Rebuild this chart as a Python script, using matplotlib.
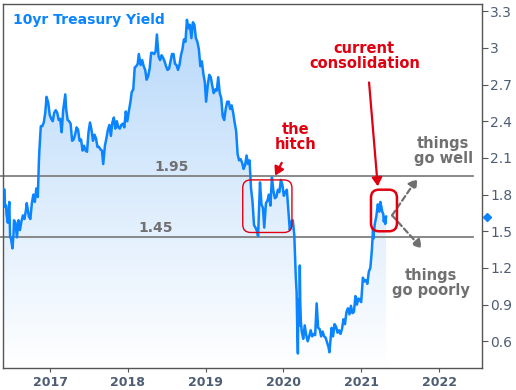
import numpy as np
import pandas as pd
import matplotlib
matplotlib.use("Agg")
import matplotlib.pyplot as plt
import matplotlib.dates as mdates
from matplotlib.patches import FancyBboxPatch

# weekly-ish 10yr treasury yield
dates = [
    "2016-05-25", "2016-06-01", "2016-06-03", "2016-06-08", "2016-06-10", "2016-06-16", "2016-06-23", "2016-06-27",
    "2016-07-01", "2016-07-08", "2016-07-13", "2016-07-15", "2016-07-22", "2016-07-29", "2016-08-05", "2016-08-12",
    "2016-08-19", "2016-08-26", "2016-09-02", "2016-09-09", "2016-09-13", "2016-09-23", "2016-09-30", "2016-10-07",
    "2016-10-14", "2016-10-21", "2016-10-28", "2016-11-04", "2016-11-09", "2016-11-11", "2016-11-18", "2016-11-25",
    "2016-12-02", "2016-12-09", "2016-12-15", "2016-12-23", "2016-12-30",
    "2017-01-06", "2017-01-13", "2017-01-20", "2017-01-27", "2017-02-03", "2017-02-10", "2017-02-17", "2017-02-24",
    "2017-03-03", "2017-03-13", "2017-03-17", "2017-03-24", "2017-03-31", "2017-04-07", "2017-04-14", "2017-04-21",
    "2017-04-28", "2017-05-05", "2017-05-12", "2017-05-19", "2017-05-26", "2017-06-02", "2017-06-09", "2017-06-16",
    "2017-06-23", "2017-06-30", "2017-07-07", "2017-07-14", "2017-07-21", "2017-07-28", "2017-08-04", "2017-08-11",
    "2017-08-18", "2017-08-25", "2017-09-01", "2017-09-07", "2017-09-15", "2017-09-22", "2017-09-29", "2017-10-06",
    "2017-10-13", "2017-10-20", "2017-10-27", "2017-11-03", "2017-11-10", "2017-11-17", "2017-11-24", "2017-12-01",
    "2017-12-08", "2017-12-15", "2017-12-22", "2017-12-29",
    "2018-01-05", "2018-01-12", "2018-01-19", "2018-01-26", "2018-02-02", "2018-02-09", "2018-02-16", "2018-02-21",
    "2018-03-02", "2018-03-09", "2018-03-16", "2018-03-23", "2018-03-30", "2018-04-06", "2018-04-13", "2018-04-20",
    "2018-04-27", "2018-05-04", "2018-05-11", "2018-05-17", "2018-05-25", "2018-06-01", "2018-06-08", "2018-06-15",
    "2018-06-22", "2018-06-29", "2018-07-06", "2018-07-13", "2018-07-20", "2018-07-27", "2018-08-03", "2018-08-10",
    "2018-08-17", "2018-08-24", "2018-08-31", "2018-09-07", "2018-09-14", "2018-09-21", "2018-09-28", "2018-10-05",
    "2018-10-12", "2018-10-19", "2018-10-26", "2018-11-02", "2018-11-09", "2018-11-16", "2018-11-23", "2018-11-30",
    "2018-12-07", "2018-12-14", "2018-12-21", "2018-12-28",
    "2019-01-03", "2019-01-11", "2019-01-18", "2019-01-25", "2019-02-01", "2019-02-08", "2019-02-15", "2019-02-22",
    "2019-03-01", "2019-03-08", "2019-03-15", "2019-03-22", "2019-03-29", "2019-04-05", "2019-04-12", "2019-04-19",
    "2019-04-26", "2019-05-03", "2019-05-10", "2019-05-17", "2019-05-24", "2019-05-31", "2019-06-07", "2019-06-14",
    "2019-06-21", "2019-06-28", "2019-07-05", "2019-07-12", "2019-07-19", "2019-07-26", "2019-08-02", "2019-08-09",
    "2019-08-16", "2019-08-23", "2019-08-30", "2019-09-04", "2019-09-13", "2019-09-20", "2019-09-27", "2019-10-03",
    "2019-10-11", "2019-10-18", "2019-10-25", "2019-11-01", "2019-11-08", "2019-11-15", "2019-11-22", "2019-11-29",
    "2019-12-06", "2019-12-13", "2019-12-20", "2019-12-27",
    "2020-01-03", "2020-01-10", "2020-01-17", "2020-01-24", "2020-01-31", "2020-02-07", "2020-02-14", "2020-02-21",
    "2020-02-28", "2020-03-03", "2020-03-06", "2020-03-09", "2020-03-10", "2020-03-13", "2020-03-16", "2020-03-18",
    "2020-03-20", "2020-03-23", "2020-03-27", "2020-04-03", "2020-04-10", "2020-04-17", "2020-04-24", "2020-05-01",
    "2020-05-08", "2020-05-15", "2020-05-22", "2020-05-29", "2020-06-05", "2020-06-12", "2020-06-19", "2020-06-26",
    "2020-07-03", "2020-07-10", "2020-07-17", "2020-07-24", "2020-07-31", "2020-08-04", "2020-08-07", "2020-08-14",
    "2020-08-21", "2020-08-28", "2020-09-04", "2020-09-11", "2020-09-18", "2020-09-25", "2020-10-02", "2020-10-09",
    "2020-10-16", "2020-10-23", "2020-10-30", "2020-11-06", "2020-11-13", "2020-11-20", "2020-11-27", "2020-12-04",
    "2020-12-11", "2020-12-18", "2020-12-24", "2020-12-31",
    "2021-01-08", "2021-01-15", "2021-01-22", "2021-01-29", "2021-02-05", "2021-02-12", "2021-02-19", "2021-02-25",
    "2021-02-26", "2021-03-05", "2021-03-12", "2021-03-19", "2021-03-26", "2021-03-31", "2021-04-05", "2021-04-09",
    "2021-04-14", "2021-04-16", "2021-04-20", "2021-04-23", "2021-04-27",
]
yields = [
    1.85, 1.84, 1.70, 1.71, 1.64, 1.57, 1.74, 1.45,
    1.44, 1.36, 1.48, 1.59, 1.57, 1.45, 1.59, 1.51,
    1.58, 1.63, 1.60, 1.67, 1.73, 1.62, 1.60, 1.73,
    1.80, 1.74, 1.85, 1.78, 2.07, 2.15, 2.36, 2.36,
    2.39, 2.47, 2.60, 2.55, 2.45,
    2.42, 2.40, 2.47, 2.49, 2.47, 2.41, 2.42, 2.31,
    2.49, 2.62, 2.50, 2.41, 2.40, 2.38, 2.24, 2.25,
    2.29, 2.35, 2.33, 2.24, 2.25, 2.16, 2.20, 2.16,
    2.15, 2.31, 2.39, 2.33, 2.24, 2.29, 2.26, 2.19,
    2.19, 2.17, 2.16, 2.05, 2.20, 2.26, 2.33, 2.37,
    2.28, 2.39, 2.43, 2.34, 2.40, 2.35, 2.34, 2.37,
    2.38, 2.35, 2.48, 2.40,
    2.48, 2.55, 2.64, 2.66, 2.84, 2.85, 2.87, 2.95,
    2.86, 2.90, 2.85, 2.82, 2.74, 2.77, 2.83, 2.96,
    2.96, 2.95, 2.97, 3.11, 2.93, 2.90, 2.94, 2.92,
    2.89, 2.85, 2.82, 2.83, 2.89, 2.95, 2.95, 2.87,
    2.86, 2.82, 2.86, 2.94, 2.99, 3.07, 3.05, 3.23,
    3.16, 3.19, 3.08, 3.21, 3.19, 3.08, 3.05, 2.99,
    2.85, 2.89, 2.79, 2.72,
    2.56, 2.70, 2.78, 2.76, 2.69, 2.63, 2.66, 2.65,
    2.76, 2.63, 2.59, 2.44, 2.41, 2.50, 2.56, 2.56,
    2.50, 2.53, 2.47, 2.39, 2.32, 2.13, 2.08, 2.09,
    2.06, 2.01, 2.04, 2.12, 2.05, 2.08, 1.85, 1.74,
    1.55, 1.53, 1.50, 1.46, 1.90, 1.72, 1.69, 1.53,
    1.73, 1.75, 1.80, 1.71, 1.94, 1.83, 1.77, 1.78,
    1.84, 1.82, 1.92, 1.88,
    1.79, 1.82, 1.84, 1.68, 1.51, 1.58, 1.59, 1.47,
    1.13, 1.00, 0.71, 0.50, 0.76, 0.94, 0.73, 1.22,
    0.92, 0.76, 0.68, 0.62, 0.73, 0.65, 0.60, 0.64,
    0.69, 0.64, 0.66, 0.65, 0.91, 0.71, 0.70, 0.64,
    0.68, 0.64, 0.63, 0.59, 0.55, 0.51, 0.57, 0.71,
    0.64, 0.74, 0.72, 0.67, 0.69, 0.66, 0.70, 0.78,
    0.74, 0.84, 0.87, 0.82, 0.89, 0.83, 0.84, 0.97,
    0.90, 0.95, 0.94, 0.92,
    1.12, 1.09, 1.10, 1.07, 1.17, 1.20, 1.34, 1.52,
    1.44, 1.56, 1.62, 1.72, 1.66, 1.74, 1.70, 1.66,
    1.64, 1.58, 1.61, 1.56, 1.62,
]
levels = [1.95, 1.45]
y_ticks = [0.6, 0.9, 1.2, 1.5, 1.8, 2.1, 2.4, 2.7, 3, 3.3]

blue = "#0a84ff"
red = "#e00010"
gray = "#707070"
tick_col = "#4d5d73"

x = mdates.date2num(pd.to_datetime(dates))
y = np.array(yields)


def d(s):
    return mdates.date2num(pd.Timestamp(s))


fig = plt.figure(figsize=(5.16, 3.9), dpi=100)
ax = fig.add_axes([0.006, 0.056, 0.928, 0.934])

x0, x1 = d("2016-05-25"), d("2022-07-21")
ylo, yhi = 0.38, 3.36

# gradient fill under the line
top = np.array([181, 215, 250]) / 255
bot = np.array([255, 255, 255]) / 255
t = np.linspace(0, 1, 256)[:, None]
grad = (top * (1 - t) + bot * t)[:, None, :]
im = ax.imshow(grad, extent=[x0, x1, ylo, yhi], aspect="auto", origin="upper", zorder=1)
fb = ax.fill_between(x, y, ylo, facecolor="none", edgecolor="none")
im.set_clip_path(fb.get_paths()[0], transform=ax.transData)

ax.plot(x, y, color=blue, lw=1.8, zorder=3)

for lv in levels:
    ax.axhline(lv, xmin=-0.006, xmax=0.981, color="#808080", lw=1.3, zorder=2, clip_on=False)
ax.text(d("2018-07-25"), 1.95 + 0.075, "1.95", color=gray,
        fontsize=10, fontweight="bold", ha="center", va="center")
ax.text(d("2018-05-10"), 1.45 + 0.075, "1.45", color=gray,
        fontsize=10, fontweight="bold", ha="center", va="center")

ax.set_xlim(x0, x1)
ax.set_ylim(ylo, yhi)

# rounded boxes (pixel sizes converted to data units)
px_x = 365.25 / 77.8
px_y = 1 / 122.0


def rbox(d0, d1, v0, v1, lw):
    a, b = d(d0), d(d1)
    p = FancyBboxPatch((a, v0), b - a, v1 - v0,
                       boxstyle="round,pad=0,rounding_size=%f" % (8 * px_x),
                       mutation_aspect=px_y / px_x,
                       fc="none", ec=red, lw=lw, zorder=4)
    ax.add_patch(p)


rbox("2019-06-24", "2020-02-10", 1.49, 1.92, 1.0)
rbox("2021-02-15", "2021-06-17", 1.50, 1.84, 1.8)

head = "-|>,head_length=0.5,head_width=0.3"
ax.annotate("", xy=(d("2019-11-17"), 1.935), xytext=(d("2019-12-30"), 2.08),
            arrowprops=dict(arrowstyle=head, color=red, lw=1.6))
ax.text(d("2020-02-25"), 2.27, "the\nhitch", color=red, fontsize=10.5, fontweight="bold",
        ha="center", va="center", linespacing=1.0)

ax.annotate("", xy=(d("2021-03-20"), 1.845), xytext=(d("2021-02-05"), 2.74),
            arrowprops=dict(arrowstyle=head, color=red, lw=1.6))
ax.text(d("2021-01-15"), 2.93, "current\nconsolidation", color=red, fontsize=10.5, fontweight="bold",
        ha="center", va="center", linespacing=1.0)

ax.annotate("", xy=(d("2021-09-20"), 1.93), xytext=(d("2021-05-25"), 1.63),
            arrowprops=dict(arrowstyle=head, color=gray, lw=1.6,
                            linestyle=(0, (2.5, 1.5)), shrinkA=0, shrinkB=0))
ax.annotate("", xy=(d("2021-10-12"), 1.36), xytext=(d("2021-05-25"), 1.63),
            arrowprops=dict(arrowstyle=head, color=gray, lw=1.6,
                            linestyle=(0, (2.5, 1.5)), shrinkA=0, shrinkB=0))
ax.text(d("2022-01-20"), 2.16, "things\ngo well", color=gray, fontsize=10.5, fontweight="bold",
        ha="center", va="center", linespacing=1.0)
ax.text(d("2021-11-25"), 1.08, "things\ngo poorly", color=gray, fontsize=10.5, fontweight="bold",
        ha="center", va="center", linespacing=1.0)

ax.text(0.02, 0.955, "10yr Treasury Yield", transform=ax.transAxes, color=blue,
        fontsize=10, fontweight="bold", ha="left", va="center")

# current-value marker on the axis
ax.plot([1.011], [y[-1]], marker="D", ms=4, color=blue, transform=ax.get_yaxis_transform(),
        clip_on=False, zorder=5)

ax.yaxis.tick_right()
ax.set_yticks(y_ticks)
ax.set_yticklabels(["0.6", "0.9", "1.2", "1.5", "1.8", "2.1", "2.4", "2.7", "3", "3.3"])
ax.xaxis.set_major_locator(mdates.YearLocator())
ax.xaxis.set_major_formatter(mdates.DateFormatter("%Y"))
ax.tick_params(axis="y", length=4, color="#555555", labelcolor=tick_col, labelsize=10, pad=2)
ax.tick_params(axis="x", length=3, color="#555555", labelcolor=tick_col, labelsize=9, pad=3)
for lab in ax.get_xticklabels():
    lab.set_fontweight("bold")
for s in ax.spines.values():
    s.set_color("#555555")
    s.set_linewidth(1.0)

fig.savefig("out.png", dpi=100)
